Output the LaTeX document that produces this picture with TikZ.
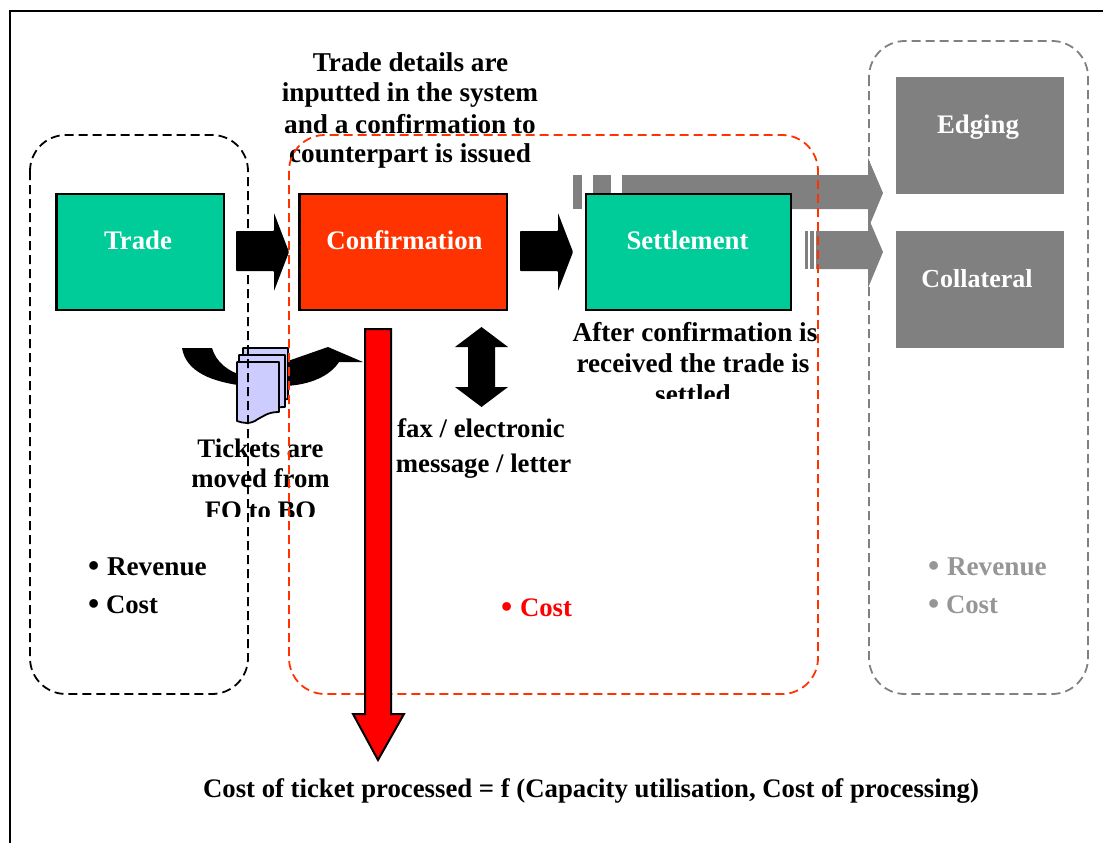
\documentclass[tikz,border=0pt]{standalone}
\usepackage{fontspec}
\setmainfont{Liberation Serif}
\definecolor{tgreen}{RGB}{0,204,153}
\definecolor{tred}{RGB}{255,51,0}
\definecolor{tgray}{RGB}{128,128,128}
\definecolor{tlgray}{RGB}{150,150,150}
\definecolor{tsheet}{RGB}{204,204,255}
\newcommand{\bul}[1]{\makebox[#1][l]{\fontsize{32}{32}\selectfont\raisebox{-1.5pt}{•}}}
\tikzset{
  every node/.style={font=\fontsize{26.75}{31}\selectfont\bfseries, inner sep=0pt, outer sep=0pt, align=center},
  txt/.style={anchor=base},
  wide/.style={font=\fontsize{27.2}{31}\selectfont\bfseries},
  wtxt/.style={anchor=base, text=white},
  stagebox/.style={draw=black, line width=2.4pt, minimum width=#1, minimum height=116pt, anchor=north west},
  graybox/.style={fill=tgray, minimum width=168pt, minimum height=117pt, anchor=north west},
  zone/.style={dash pattern=on 9pt off 5pt, line width=1.8pt, rounded corners=36pt},
  sheet/.style={draw=black, line width=1.8pt, fill=tsheet, line join=round},
}
\begin{document}
\begin{tikzpicture}[x=1pt,y=-1pt]
\useasboundingbox (0,0) rectangle (1103,843);
\draw[line width=2pt] (9.5,843) -- (9.5,11.5) -- (1103,11.5);
% gray arrows
\fill[tgray] (573,175) rectangle (582,209);
\fill[tgray] (593,175) rectangle (611,209);
\fill[tgray] (622,175) -- (868,175) -- (868,158) -- (883,193) -- (868,229) -- (868,209) -- (622,209) -- cycle;
\fill[tgray] (805,231) rectangle (808,269);
\fill[tgray] (810,231) rectangle (814,269);
\fill[tgray] (816,231) -- (868,231) -- (868,217) -- (883,252) -- (868,288) -- (868,269) -- (816,269) -- cycle;
% boxes
\node[stagebox=167.5pt, fill=tgreen] (trade) at (56.5,194) {};
\node[stagebox=207.5pt, fill=tred] (conf) at (299.5,194) {};
\node[stagebox=205pt, fill=tgreen] (settle) at (586,194) {};
\node[graybox] (edging) at (896,77) {};
\node[graybox] (coll) at (896,231) {};
\node[wtxt] (ltrade) at (138,249) {Trade};
\node[wtxt] (lconf) at (404.5,249) {Confirmation};
\node[wtxt] (lsettle) at (687.5,249) {Settlement};
\node[wtxt] (ledging) at (978,133) {Edging};
\node[wtxt, font=\fontsize{26}{31}\selectfont\bfseries] (lcoll) at (977,287) {Collateral};
% black arrows
\fill[rounded corners=0.8pt] (236,231) -- (274,231) -- (274,213) -- (289,252) -- (274,291) -- (274,271) -- (236,271) -- cycle;
\fill[rounded corners=0.8pt] (520,231) -- (558,231) -- (558,213) -- (573,252) -- (558,291) -- (558,271) -- (520,271) -- cycle;
% double arrow
\fill (481.5,327) -- (508,347) -- (495,347) -- (495,387) -- (508,387) -- (481.5,407) -- (455,387) -- (468,387) -- (468,347) -- (455,347) -- cycle;
% curved arrow
\fill (182,348) -- (212,348) .. controls (216,362) and (228,372) .. (245,376) -- (245,386) .. controls (212,382) and (186,372) .. (182,348) -- cycle;
\fill (285,377) .. controls (296,375) and (303,369) .. (308,362) -- (363,362) -- (328,347) -- (285,362) -- cycle;
\fill (285,377) -- (285,386) .. controls (310,385) and (330,376) .. (339,362) -- (308,362) -- cycle;
% sheets
\draw[sheet] (243,348) -- (288,348) -- (288,399) .. controls (275,400) and (262,405) .. (243,404) -- cycle;
\draw[sheet] (239,355) -- (285,355) -- (285,407) .. controls (270,407) and (258,412) .. (239,411) -- cycle;
\draw[sheet] (237,362) -- (279,362) -- (279,412) .. controls (268,412) and (264,416) .. (258,419) .. controls (250,425) and (243,423) .. (237,421) -- cycle;
% texts
\node[txt, wide] (t1) at (410.5,71) {Trade details are};
\node[txt, wide] (t2) at (410,102) {inputted in the system};
\node[txt, wide] (t3) at (410,133) {and a confirmation to};
\node[txt, wide] (t4) at (410,162) {counterpart is issued};
\node[txt, wide] (s1) at (695,341) {After confirmation is};
\node[txt, wide] (s2) at (693,372) {received the trade is};
\begin{scope}
\clip (550,380) rectangle (850,398);
\node[txt, wide] (s3) at (693,403) {settled};
\end{scope}
\node[txt] (k1) at (260.5,457) {Tickets are};
\node[txt] (k2) at (260.5,487) {moved from};
\begin{scope}
\clip (150,495) rectangle (380,516);
\node[txt] (k3) at (260.5,519) {FO to BO};
\end{scope}
\node[txt] (f1) at (481,437) {fax / electronic};
\node[txt] (f2) at (483.5,472) {message / letter};
\node[anchor=base west, wide] (r1) at (88,575) {\bul{19pt}Revenue};
\node[anchor=base west] (c1) at (88,613) {\bul{18pt}Cost};
\node[anchor=base west, text=red] (c2) at (501,616) {\bul{19pt}Cost};
\node[anchor=base west, text=tlgray, wide] (r3) at (928,575) {\bul{19pt}Revenue};
\node[anchor=base west, text=tlgray] (c3) at (928,613) {\bul{18pt}Cost};
\node[txt] (form) at (591,797) {Cost of ticket processed = f (Capacity utilisation, Cost of processing)};
% zones
\draw[zone, draw=black] (30,135) rectangle (248,694);
\draw[zone, draw=tred] (289,135) rectangle (818,694);
\draw[zone, draw=tgray] (869,41) rectangle (1088,694);
% red arrow
\draw[fill=red, line width=2pt, line join=miter] (365,329) -- (391,329) -- (391,714) -- (404,714) -- (378,760) -- (353,714) -- (365,714) -- cycle;
\end{tikzpicture}
\end{document}
